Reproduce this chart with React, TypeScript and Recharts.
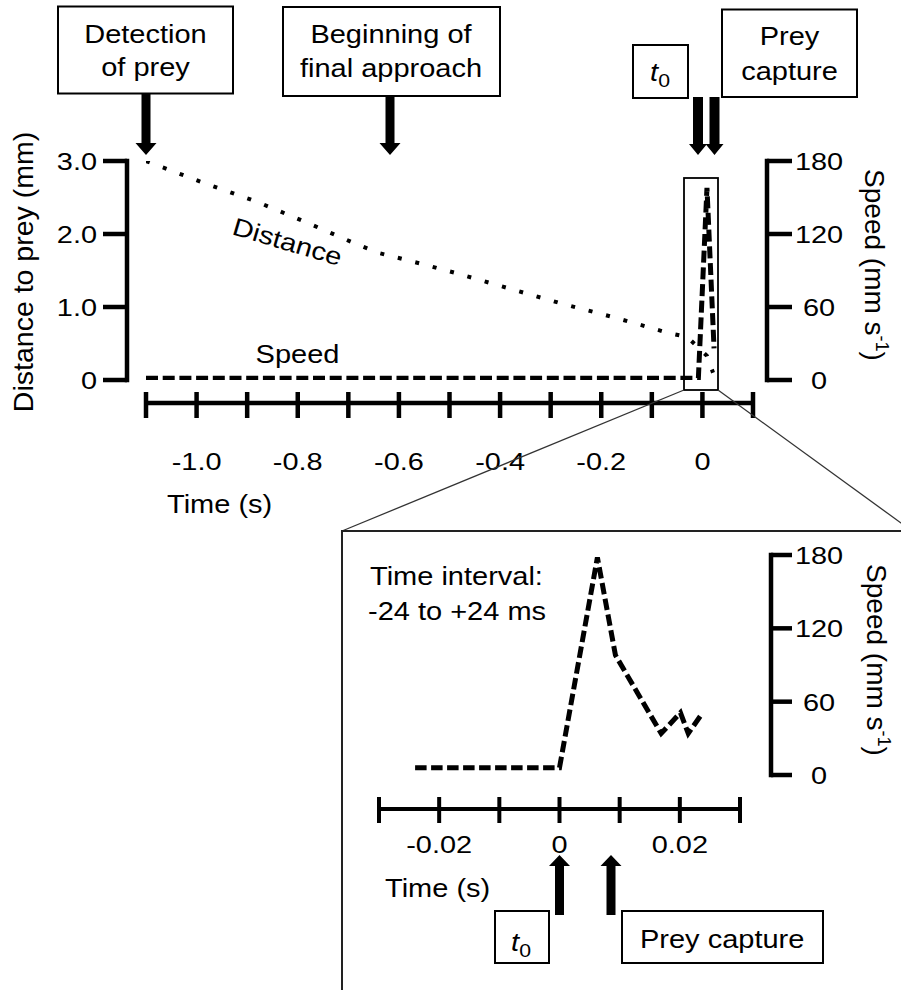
import React from 'react';
import { ComposedChart, LineChart, Line, XAxis, YAxis } from 'recharts';

const FONT = "'Liberation Sans', Arial, Helvetica, sans-serif";

// ---------- main panel data ----------
const mainTimeTicks = [-1.1, -1.0, -0.9, -0.8, -0.7, -0.6, -0.5, -0.4, -0.3, -0.2, -0.1, 0, 0.1];
const distanceTicks = [0, 1, 2, 3];
const speedTicks = [0, 60, 120, 180];

const distanceTime = [-1.1, -0.99, -0.88, -0.78, -0.68, -0.64, -0.56, -0.49, -0.385, -0.28, -0.17, -0.065, -0.03, 0.009, 0.021];
const distanceMm = [3.0, 2.71, 2.44, 2.15, 1.85, 1.74, 1.6, 1.47, 1.26, 1.05, 0.85, 0.64, 0.59, 0.33, 0.1];

const speedTime = [-1.1, -0.008, 0.009, 0.023];
const speedMmS = [1.5, 1.5, 158, 26];

// ---------- inset panel data ----------
const insetTimeTicks = [-0.03, -0.02, -0.01, 0, 0.01, 0.02, 0.03];
const insetTime = [-0.024, 0, 0.0063, 0.0093, 0.0169, 0.0201, 0.0214, 0.0238];
const insetSpeed = [6, 6, 178, 98, 34, 51, 34, 51];

const distanceData = distanceTime.map((t, i) => ({ t, d: distanceMm[i] }));
const speedData = speedTime.map((t, i) => ({ t, v: speedMmS[i] }));
const insetData = insetTime.map((t, i) => ({ t, v: insetSpeed[i] }));

type STextProps = {
  x: number;
  y: number;
  size?: number;
  sx?: number;
  anchor?: 'start' | 'middle' | 'end';
  children?: React.ReactNode;
};

function SText({ x, y, size = 25, sx = 1.16, anchor = 'start', children }: STextProps) {
  return (
    <text
      transform={`translate(${x},${y}) scale(${sx},1)`}
      x={0}
      y={0}
      fontSize={size}
      fontFamily={FONT}
      textAnchor={anchor}
      fill="#000"
    >
      {children}
    </text>
  );
}

const TICK_SIZE = 24.5;
const TICK_SX = 1.18;

const MainXTick = (props: any) => {
  const { x, y, payload } = props;
  const v = payload.value as number;
  const k = Math.round(v * 10);
  const show = k % 2 === 0;
  const label = k === 0 ? '0' : v.toFixed(1);
  return (
    <g>
      <line x1={x} x2={x} y1={y - 11} y2={y + 15} stroke="#000" strokeWidth={4.5} />
      {show && (
        <SText x={x} y={y + 67} anchor="middle" size={TICK_SIZE} sx={TICK_SX}>
          {label}
        </SText>
      )}
    </g>
  );
};

const InsetXTick = (props: any) => {
  const { x, y, payload } = props;
  const v = payload.value as number;
  const k = Math.round(v * 100);
  const show = k % 2 === 0;
  const label = k === 0 ? '0' : v.toFixed(2);
  return (
    <g>
      <line x1={x} x2={x} y1={y - 12} y2={y + 14} stroke="#000" strokeWidth={4} />
      {show && (
        <SText x={x} y={y + 44} anchor="middle" size={TICK_SIZE} sx={TICK_SX}>
          {label}
        </SText>
      )}
    </g>
  );
};

const DistTick = (props: any) => {
  const { x, y, payload } = props;
  const v = payload.value as number;
  const label = v === 0 ? '0' : v.toFixed(1);
  return (
    <SText x={x} y={y + 8.5} anchor="end" size={TICK_SIZE} sx={TICK_SX}>
      {label}
    </SText>
  );
};

const SpeedTick = (props: any) => {
  const { x, y, payload } = props;
  return (
    <SText x={x + 27} y={y + 9} anchor="middle" size={TICK_SIZE} sx={TICK_SX}>
      {String(payload.value)}
    </SText>
  );
};

function SpeedTitle({ cx, cy }: { cx: number; cy: number }) {
  return (
    <text
      transform={`translate(${cx},${cy}) rotate(90)`}
      textAnchor="middle"
      fontSize={28}
      fontFamily={FONT}
      fill="#000"
    >
      Speed (mm s<tspan fontSize={18} dy={-11}>-1</tspan>
      <tspan dy={11}>)</tspan>
    </text>
  );
}

function DownArrow({ cx, top, tip, sw, hw, hl }: { cx: number; top: number; tip: number; sw: number; hw: number; hl: number }) {
  const pts = [
    [cx - sw, top],
    [cx + sw, top],
    [cx + sw, tip - hl],
    [cx + hw, tip - hl],
    [cx, tip],
    [cx - hw, tip - hl],
    [cx - sw, tip - hl],
  ];
  return <polygon points={pts.map((p) => p.join(',')).join(' ')} fill="#000" />;
}

function UpArrow({ cx, bottom, tip, sw, hw, hl }: { cx: number; bottom: number; tip: number; sw: number; hw: number; hl: number }) {
  const pts = [
    [cx - sw, bottom],
    [cx + sw, bottom],
    [cx + sw, tip + hl],
    [cx + hw, tip + hl],
    [cx, tip],
    [cx - hw, tip + hl],
    [cx - sw, tip + hl],
  ];
  return <polygon points={pts.map((p) => p.join(',')).join(' ')} fill="#000" />;
}

function T0({ x, y }: { x: number; y: number }) {
  return (
    <text transform={`translate(${x},${y}) scale(1.12,1)`} textAnchor="middle" fontFamily={FONT} fontSize={26} fill="#000">
      <tspan fontStyle="italic">t</tspan>
      <tspan fontSize={19} dy={6}>0</tspan>
    </text>
  );
}

const axisStyle = { stroke: '#000', strokeWidth: 4.5, strokeLinecap: 'square' as const };
const insetAxisStyle = { stroke: '#000', strokeWidth: 4.5, strokeLinecap: 'square' as const };

export default function App() {
  return (
    <div style={{ position: 'absolute', left: 0, top: 0, width: 901, height: 990, background: '#fff', overflow: 'hidden' }}>
      {/* ---------------- main chart ---------------- */}
      <div style={{ position: 'absolute', left: 0, top: 0 }}>
        <ComposedChart width={901} height={520} margin={{ top: 161, right: 0, bottom: 0, left: 0 }}>
          <XAxis
            xAxisId="aGap"
            type="number"
            dataKey="t"
            domain={[-1.1, 0.1]}
            allowDataOverflow
            height={23}
            axisLine={false}
            tickLine={false}
            tick={false}
          />
          <XAxis
            xAxisId="time"
            type="number"
            dataKey="t"
            domain={[-1.1, 0.1]}
            allowDataOverflow
            ticks={mainTimeTicks}
            interval={0}
            height={117}
            tickSize={0}
            tickMargin={0}
            tickLine={false}
            axisLine={{ stroke: '#000', strokeWidth: 4.5 }}
            tick={(p: any) => <MainXTick {...p} />}
            label={(p: any) => {
              const vb = (p && p.viewBox) || {};
              const x0 = (vb.x ?? 146) + 21;
              const y0 = (vb.y ?? 403) + 110;
              return <SText x={x0} y={y0}>Time (s)</SText>;
            }}
          />
          <YAxis yAxisId="aGapL" orientation="left" width={19} domain={[0, 3]} axisLine={false} tickLine={false} tick={false} />
          <YAxis
            yAxisId="dist"
            orientation="left"
            width={127}
            domain={[0, 3]}
            allowDataOverflow
            ticks={distanceTicks}
            interval={0}
            tickSize={24}
            tickMargin={6}
            axisLine={axisStyle}
            tickLine={{ stroke: '#000', strokeWidth: 4.5 }}
            tick={(p: any) => <DistTick {...p} />}
            label={() => (
              <text
                transform="translate(33,272) rotate(-90)"
                textAnchor="middle"
                fontSize={28.5}
                fontFamily={FONT}
                fill="#000"
              >
                Distance to prey (mm)
              </text>
            )}
          />
          <YAxis yAxisId="aGapR" orientation="right" width={14} domain={[0, 180]} axisLine={false} tickLine={false} tick={false} />
          <YAxis
            yAxisId="speed"
            orientation="right"
            width={134}
            domain={[0, 180]}
            allowDataOverflow
            ticks={speedTicks}
            interval={0}
            tickSize={25}
            tickMargin={0}
            axisLine={axisStyle}
            tickLine={{ stroke: '#000', strokeWidth: 4.5 }}
            tick={(p: any) => <SpeedTick {...p} />}
            label={() => <SpeedTitle cx={865} cy={265} />}
          />
          <Line
            xAxisId="time"
            yAxisId="dist"
            data={distanceData}
            dataKey="d"
            type="linear"
            stroke="#000"
            strokeWidth={4}
            strokeDasharray="4 14"
            dot={false}
            activeDot={false}
            isAnimationActive={false}
          />
          <Line
            xAxisId="time"
            yAxisId="speed"
            data={speedData}
            dataKey="v"
            type="linear"
            stroke="#000"
            strokeWidth={5}
            strokeDasharray="12 4.7"
            dot={false}
            activeDot={false}
            isAnimationActive={false}
          />
        </ComposedChart>
      </div>

      {/* ---------------- inset chart ---------------- */}
      <div style={{ position: 'absolute', left: 0, top: 0 }}>
        <LineChart width={901} height={990} margin={{ top: 555, right: 0, bottom: 0, left: 379 }}>
          <XAxis
            xAxisId="aGap"
            type="number"
            dataKey="t"
            domain={[-0.03, 0.03]}
            allowDataOverflow
            height={34}
            axisLine={false}
            tickLine={false}
            tick={false}
          />
          <XAxis
            xAxisId="time"
            type="number"
            dataKey="t"
            domain={[-0.03, 0.03]}
            allowDataOverflow
            ticks={insetTimeTicks}
            interval={0}
            height={181}
            tickSize={0}
            tickMargin={0}
            tickLine={false}
            axisLine={{ stroke: '#000', strokeWidth: 4 }}
            tick={(p: any) => <InsetXTick {...p} />}
            label={(p: any) => {
              const vb = (p && p.viewBox) || {};
              const x0 = (vb.x ?? 379) + 6;
              const y0 = (vb.y ?? 809) + 88;
              return <SText x={x0} y={y0}>Time (s)</SText>;
            }}
          />
          <YAxis yAxisId="aGapR" orientation="right" width={31} domain={[0, 180]} axisLine={false} tickLine={false} tick={false} />
          <YAxis
            yAxisId="speed"
            orientation="right"
            width={130}
            domain={[0, 180]}
            allowDataOverflow
            ticks={speedTicks}
            interval={0}
            tickSize={21}
            tickMargin={0}
            axisLine={insetAxisStyle}
            tickLine={{ stroke: '#000', strokeWidth: 4.5 }}
            tick={(p: any) => <SpeedTick {...p} />}
            label={() => <SpeedTitle cx={867} cy={660} />}
          />
          <Line
            xAxisId="time"
            yAxisId="speed"
            data={insetData}
            dataKey="v"
            type="linear"
            stroke="#000"
            strokeWidth={5}
            strokeDasharray="11.5 4.5"
            dot={false}
            activeDot={false}
            isAnimationActive={false}
          />
        </LineChart>
      </div>

      {/* ---------------- annotations ---------------- */}
      <svg width={901} height={990} style={{ position: 'absolute', left: 0, top: 0, pointerEvents: 'none' }}>
        {/* top boxes */}
        <rect x={58} y={6.5} width={175} height={87} fill="none" stroke="#000" strokeWidth={2} />
        <SText x={145.5} y={43} anchor="middle">Detection</SText>
        <SText x={145.5} y={76} anchor="middle">of prey</SText>

        <rect x={283} y={7} width={217} height={89} fill="none" stroke="#000" strokeWidth={2} />
        <SText x={391} y={43} anchor="middle">Beginning of</SText>
        <SText x={391} y={77} anchor="middle">final approach</SText>

        <rect x={633} y={45} width={55} height={53} fill="none" stroke="#000" strokeWidth={2} />
        <T0 x={660} y={81} />

        <rect x={722} y={9.5} width={135} height={87.5} fill="none" stroke="#000" strokeWidth={2} />
        <SText x={789.5} y={45} anchor="middle">Prey</SText>
        <SText x={789.5} y={80} anchor="middle">capture</SText>

        {/* down arrows */}
        <DownArrow cx={146} top={94} tip={155} sw={4.5} hw={10.5} hl={12} />
        <DownArrow cx={390} top={96} tip={155} sw={4.5} hw={10.5} hl={12} />
        <DownArrow cx={698} top={97} tip={155} sw={5} hw={9} hl={11} />
        <DownArrow cx={714.5} top={97} tip={155} sw={5} hw={9} hl={11} />

        {/* series labels */}
        <text
          transform="translate(285,250) rotate(16.5) scale(1.16,1)"
          textAnchor="middle"
          fontSize={25}
          fontFamily={FONT}
          fill="#000"
        >
          Distance
        </text>
        <SText x={297.5} y={363} anchor="middle">Speed</SText>

        {/* zoom box and connectors */}
        <rect x={684} y={178} width={34} height={212} fill="none" stroke="#000" strokeWidth={1.8} />
        <line x1={684} y1={390} x2={342} y2={531} stroke="#333" strokeWidth={1.3} />
        <line x1={718} y1={390} x2={912} y2={531} stroke="#333" strokeWidth={1.3} />
        <path d="M342,992 L342,531 L912,531" fill="none" stroke="#222" strokeWidth={2} />

        {/* inset annotations */}
        <SText x={370} y={585}>Time interval:</SText>
        <SText x={368} y={620}>-24 to +24 ms</SText>

        <UpArrow cx={559.5} bottom={915} tip={855} sw={4.5} hw={10.5} hl={11} />
        <UpArrow cx={611} bottom={915} tip={855} sw={4.5} hw={10.5} hl={11} />

        <rect x={495} y={911} width={54} height={52} fill="none" stroke="#000" strokeWidth={2} />
        <T0 x={521} y={951} />
        <rect x={622} y={911} width={201} height={52} fill="none" stroke="#000" strokeWidth={2} />
        <SText x={640} y={948}>Prey capture</SText>
      </svg>
    </div>
  );
}
